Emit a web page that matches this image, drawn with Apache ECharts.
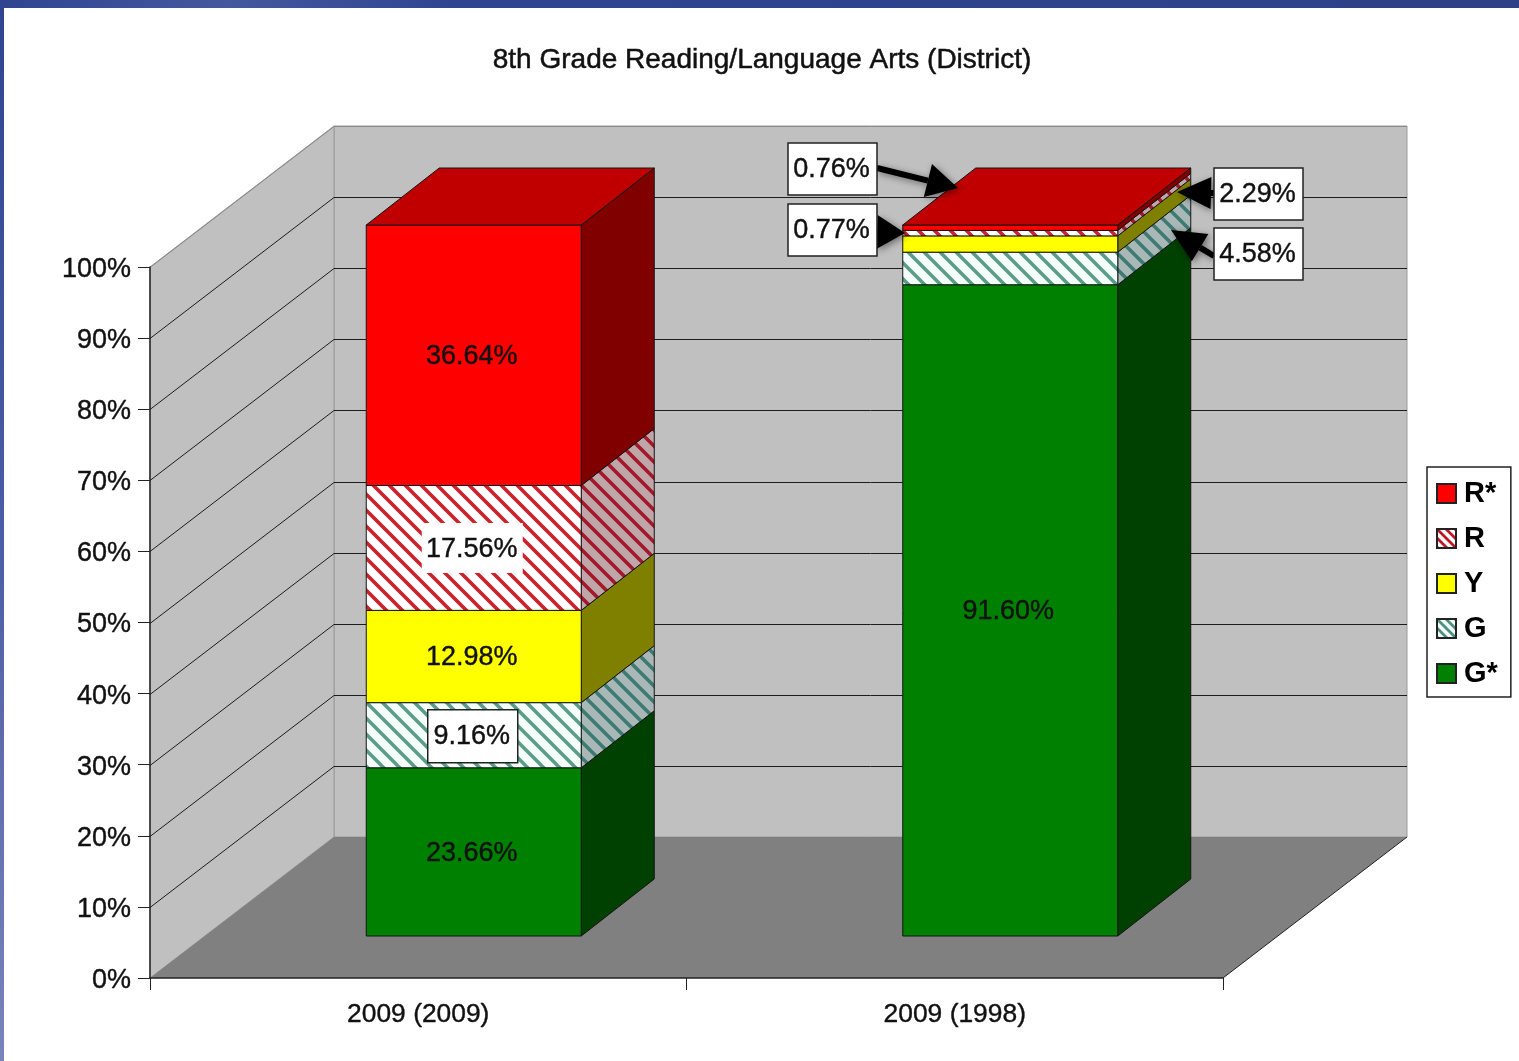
<!DOCTYPE html>
<html>
<head>
<meta charset="utf-8">
<title>8th Grade Reading/Language Arts (District)</title>
<style>
  html, body { margin: 0; padding: 0; background: #fff; }
  #main { width: 1519px; height: 1061px; }
</style>
<script src="https://cdn.jsdelivr.net/npm/echarts@6/dist/echarts.min.js"></script>
</head>
<body>
<div id="main"></div>
<script>
// data
var categories = ["2009 (2009)", "2009 (1998)"];
var gStar = [23.66, 91.60];
var g = [9.16, 4.58];
var y = [12.98, 2.29];
var r = [17.56, 0.77];
var rStar = [36.64, 0.76];
var yTicks = [0, 10, 20, 30, 40, 50, 60, 70, 80, 90, 100];

var FONT = '"Liberation Sans", Arial, sans-serif';
// depth of the fake 3d box, pixels
var DX = 184, DY = 141;
// bar placement relative to the category centre
var BAR_SHIFT = 55.5, BAR_HALF = 107.5, BAR_LIFT = 42, BAR_DX = 73, BAR_DY = 57;

function hatch(bg, stripe, p, w) {
  var c = document.createElement("canvas");
  c.width = p; c.height = p;
  var ctx = c.getContext("2d");
  ctx.fillStyle = bg;
  ctx.fillRect(0, 0, p, p);
  ctx.strokeStyle = stripe;
  ctx.lineWidth = w;
  ctx.beginPath();
  ctx.moveTo(-p, -p); ctx.lineTo(2 * p, 2 * p);
  ctx.moveTo(0, -p); ctx.lineTo(2 * p, p);
  ctx.moveTo(-p, 0); ctx.lineTo(p, 2 * p);
  ctx.stroke();
  return { image: c, repeat: "repeat" };
}

var stacks = [
  { name: "G*", values: gStar, front: "#008000", side: "#004000", legend: "#008000" },
  { name: "G", values: g, front: hatch("#f4fff9", "#5c9c8a", 16, 3.6), side: hatch("#a9b7b7", "#3d7b72", 16, 3.6),
    legend: hatch("#f4fff9", "#4f8f80", 9, 2.8), box: "line" },
  { name: "Y", values: y, front: "#ffff00", side: "#808000", legend: "#ffff00" },
  { name: "R", values: r, front: hatch("#ffffff", "#d0202a", 16, 3.6), side: hatch("#bfa6a9", "#a3182a", 16, 3.6),
    legend: hatch("#ffffff", "#c01822", 9, 2.8), box: "plain" },
  { name: "R*", values: rStar, front: "#ff0000", side: "#800000", legend: "#ff0000", top: "#c00000" }
];

// running base of every stack
var running = categories.map(function () { return 0; });
stacks.forEach(function (s) {
  s.rows = s.values.map(function (v, i) {
    var row = [i, running[i], running[i] + v, v];
    running[i] += v;
    return row;
  });
});

function renderBar(stack) {
  return function (params, api) {
    var lo = api.coord([api.value(0), api.value(1)]);
    var hi = api.coord([api.value(0), api.value(2)]);
    var val = api.value(3);
    var x1 = lo[0] + BAR_SHIFT - BAR_HALF, x2 = lo[0] + BAR_SHIFT + BAR_HALF;
    var yb = lo[1] - BAR_LIFT, yt = hi[1] - BAR_LIFT;
    var edge = { stroke: "#141414", lineWidth: 1 };
    var kids = [
      { type: "polygon", shape: { points: [[x2, yb], [x2 + BAR_DX, yb - BAR_DY], [x2 + BAR_DX, yt - BAR_DY], [x2, yt]] },
        style: { fill: stack.side, stroke: edge.stroke, lineWidth: edge.lineWidth } },
      { type: "rect", shape: { x: x1, y: yt, width: x2 - x1, height: yb - yt },
        style: { fill: stack.front, stroke: edge.stroke, lineWidth: edge.lineWidth } }
    ];
    if (stack.top) {
      kids.push({ type: "polygon", shape: { points: [[x1, yt], [x1 + BAR_DX, yt - BAR_DY], [x2 + BAR_DX, yt - BAR_DY], [x2, yt]] },
        style: { fill: stack.top, stroke: edge.stroke, lineWidth: edge.lineWidth } });
    }
    if (val >= 5) {
      var cx = (x1 + x2) / 2 - 2, cy = (yt + yb) / 2;
      if (stack.box == "line") {
        kids.push({ type: "rect", shape: { x: cx - 44, y: cy - 25.5, width: 90, height: 53 },
          style: { fill: "#fff", stroke: "#222", lineWidth: 1.5 } });
      } else if (stack.box == "plain") {
        kids.push({ type: "rect", shape: { x: cx - 50, y: cy - 25, width: 101, height: 50 }, style: { fill: "#fff" } });
      }
      kids.push({ type: "text", style: { text: val.toFixed(2) + "%", x: cx, y: cy + 1.5, align: "center", verticalAlign: "middle",
        fill: "#111", stroke: "#111", lineWidth: 0.4, font: "27px " + FONT } });
    }
    return { type: "group", children: kids };
  };
}

function renderWalls(params, api) {
  var c = params.coordSys;
  var x0 = c.x, x1 = c.x + c.width, yb = c.y + c.height, yt = c.y;
  return { type: "group", children: [
    { type: "polygon", shape: { points: [[x0 + DX, yb - DY], [x1 + DX, yb - DY], [x1 + DX, yt - DY], [x0 + DX, yt - DY]] },
      style: { fill: "#c0c0c0", stroke: "#9a9a9a", lineWidth: 1 } },
    { type: "polygon", shape: { points: [[x0, yb], [x0 + DX, yb - DY], [x0 + DX, yt - DY], [x0, yt]] },
      style: { fill: "#c0c0c0", stroke: "#9a9a9a", lineWidth: 1 } },
    { type: "polygon", shape: { points: [[x0, yb], [x0 + DX, yb - DY], [x1 + DX, yb - DY], [x1, yb]] },
      style: { fill: "#808080" } },
    { type: "line", shape: { x1: x1, y1: yb, x2: x1 + DX, y2: yb - DY }, style: { stroke: "#222", lineWidth: 1 } }
  ] };
}

function renderGrid(params, api) {
  var v = api.value(0);
  if (v == 0) return;
  var c = params.coordSys;
  var py = Math.round(api.coord([0, v])[1]) + 0.5;
  var col = v == 100 ? "#8a8a8a" : "#1c1c1c";
  return { type: "polyline", shape: { points: [[c.x, py], [c.x + DX, py - DY], [c.x + c.width + DX, py - DY]] },
    style: { stroke: col, lineWidth: 1, fill: null } };
}

// callouts of the thin segments on the second bar
function callout(text, x, top, tail, tip, head, wide) {
  var dx = tip[0] - tail[0], dy = tip[1] - tail[1];
  var len = Math.sqrt(dx * dx + dy * dy);
  var ux = dx / len, uy = dy / len;
  var bx = tip[0] - ux * head, by = tip[1] - uy * head;
  var shadow = { shadowBlur: 7, shadowColor: "rgba(0,0,0,0.45)", shadowOffsetX: 2, shadowOffsetY: 2 };
  return [
    { type: "line", z: 20, shape: { x1: tail[0], y1: tail[1], x2: bx, y2: by },
      style: Object.assign({ stroke: "#000", lineWidth: 6 }, shadow) },
    { type: "polygon", z: 20, shape: { points: [tip, [bx - uy * wide, by + ux * wide], [bx + uy * wide, by - ux * wide]] },
      style: Object.assign({ fill: "#000" }, shadow) },
    { type: "rect", z: 21, shape: { x: x, y: top, width: 89, height: 52 }, style: { fill: "#fff", stroke: "#222", lineWidth: 1.5 } },
    { type: "text", z: 22, style: { text: text.toFixed(2) + "%", x: x + 43.5, y: top + 27, align: "center", verticalAlign: "middle",
      fill: "#111", stroke: "#111", lineWidth: 0.4, font: "27px " + FONT } }
  ];
}

var graphics = [
  { type: "rect", z: 30, shape: { x: 0, y: 0, width: 1519, height: 8 },
    style: { fill: new echarts.graphic.LinearGradient(0, 0, 1, 0, [
      { offset: 0, color: "#2f4590" }, { offset: 0.15, color: "#44589f" }, { offset: 0.3, color: "#2f4590" }, { offset: 1, color: "#2c4188" }]) } },
  { type: "rect", z: 30, shape: { x: 0, y: 0, width: 4, height: 1061 },
    style: { fill: new echarts.graphic.LinearGradient(0, 0, 0, 1, [
      { offset: 0, color: "#2f4590" }, { offset: 0.5, color: "#4a5da5" }, { offset: 1, color: "#7a84bb" }]) } }
].concat(
  callout(rStar[1], 788, 143, [877, 168], [958, 188], 31, 17),
  callout(r[1], 788, 204, [877, 232], [905, 233], 28, 17),
  callout(y[1], 1214, 168, [1214, 193], [1177, 192], 34, 16),
  callout(g[1], 1214, 228, [1214, 256], [1171, 230], 34, 16)
);

var series = [
  { type: "custom", name: "walls", z: 1, silent: true, data: [[0]], renderItem: renderWalls },
  { type: "custom", name: "grid", z: 1, silent: true, data: yTicks.map(function (v) { return [v]; }), renderItem: renderGrid,
    encode: { y: 0 } }
];
stacks.forEach(function (s) {
  series.push({
    type: "custom", name: s.name, z: 3, silent: true,
    data: s.rows, encode: { x: 0, y: [1, 2] },
    itemStyle: { color: s.legend, borderColor: "#222", borderWidth: 1.5 },
    renderItem: renderBar(s)
  });
});

var chart = echarts.init(document.getElementById("main"));
chart.setOption({
  animation: false,
  backgroundColor: "#ffffff",
  title: {
    text: "8th Grade Reading/Language Arts (District)",
    left: 757, top: 41, textAlign: "center",
    textStyle: { fontFamily: FONT, fontSize: 28, fontWeight: "normal", color: "#111", textBorderColor: "#111", textBorderWidth: 0.5 }
  },
  legend: {
    orient: "vertical", left: 1427, top: 467,
    data: ["R*", "R", "Y", "G", "G*"],
    icon: "rect", itemWidth: 19, itemHeight: 19, itemGap: 16,
    padding: [12, 13, 9, 9],
    backgroundColor: "#fff", borderColor: "#222", borderWidth: 1.5, borderRadius: 0,
    selectedMode: false,
    textStyle: { fontFamily: FONT, fontSize: 29, fontWeight: "bold", color: "#000", padding: [0, 0, 0, 3] }
  },
  grid: { left: 150, right: 296, top: 267, bottom: 83, containLabel: false },
  xAxis: {
    type: "category", data: categories, z: 10,
    axisLine: { lineStyle: { color: "#222", width: 1.5 } },
    axisTick: { show: true, length: 12, alignWithLabel: false, lineStyle: { color: "#222" } },
    axisLabel: { margin: 24, fontFamily: FONT, fontSize: 26.4, color: "#111", textBorderColor: "#111", textBorderWidth: 0.4 },
    splitLine: { show: false }
  },
  yAxis: {
    type: "value", min: 0, max: 100, interval: 10, z: 10,
    axisLine: { show: true, lineStyle: { color: "#222", width: 1.5 } },
    axisTick: { show: true, length: 12, lineStyle: { color: "#222" } },
    axisLabel: { margin: 19, verticalAlign: "top", lineHeight: 5, formatter: "{value}%", fontFamily: FONT, fontSize: 27, color: "#111", textBorderColor: "#111", textBorderWidth: 0.4 },
    splitLine: { show: false }
  },
  graphic: graphics,
  series: series
});
</script>
</body>
</html>
